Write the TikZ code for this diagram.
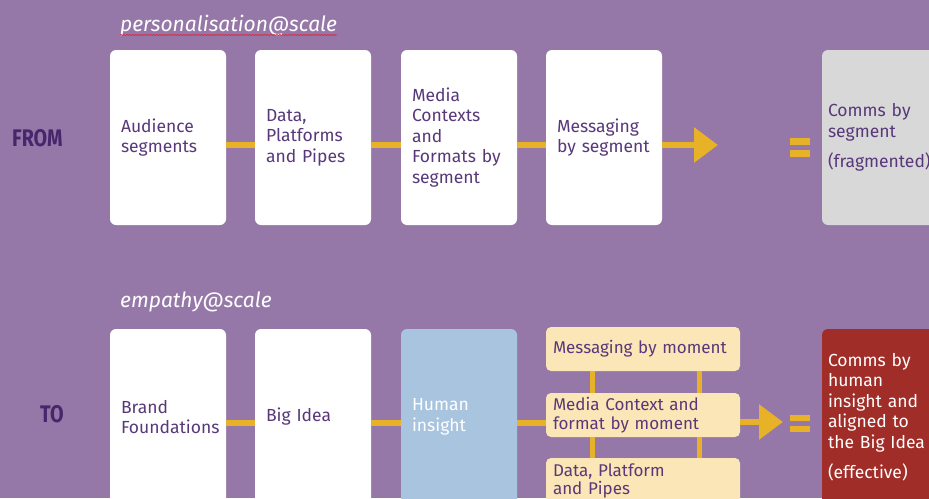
\documentclass[tikz,border=0pt]{standalone}
\usepackage{fontspec}
\setmainfont{Fira Sans}
\newfontfamily\bodyfont{Fira Sans}[UprightFont=* Light]
\newfontfamily\titlefont{Fira Sans}[UprightFont=* Italic]
\newfontfamily\headfont{Fira Sans}[UprightFont=* Bold]
\usetikzlibrary{arrows.meta,decorations.pathmorphing}
\definecolor{bgpurple}{RGB}{149,120,168}
\definecolor{yel}{RGB}{232,178,40}
\definecolor{txtpurple}{RGB}{88,56,122}
\definecolor{headpurple}{RGB}{72,38,108}
\definecolor{lblue}{RGB}{168,196,222}
\definecolor{cream}{RGB}{250,230,182}
\definecolor{redbox}{RGB}{160,45,40}
\definecolor{greybox}{RGB}{216,216,216}
\definecolor{squiggle}{RGB}{215,50,70}
\tikzset{
  box/.style={fill=white, rounded corners=6pt, minimum width=116pt, text width=94pt, inner xsep=11pt,
    align=left, font=\fontsize{17.5}{20.5}\selectfont, text=txtpurple, anchor=center},
  tall/.style={minimum height=175pt},
  creambox/.style={fill=cream, rounded corners=5pt, minimum width=194pt, text width=180pt, inner xsep=7pt,
    align=left, font=\fontsize{17}{18.5}\selectfont, text=txtpurple},
  endbox/.style={rounded corners=6pt, minimum width=130pt, text width=118pt, inner xsep=6pt, align=left,
    font=\fontsize{17.5}{20.5}\selectfont},
  conn/.style={draw=yel, line width=6pt},
  arr/.style={draw=yel, line width=6pt, -{Triangle[length=24pt,width=34pt]}},
  vconn/.style={draw=yel, line width=5pt},
  eq/.style={fill=yel},
  title/.style={font=\titlefont\fontsize{21}{23}\selectfont, text=white, anchor=base west, inner sep=0pt},
  head/.style={font=\headfont\fontsize{24}{24}\selectfont, text=headpurple, anchor=base west, inner sep=0pt},
}
\begin{document}
\begin{tikzpicture}[x=1pt,y=-1pt]
\useasboundingbox (0,0) rectangle (929,498);
\fill[bgpurple] (0,0) rectangle (929,498);
\clip (0,0) rectangle (929,498);

% titles
\node[title] (t1) at (120,31) {personalisation@scale};
\draw[squiggle, line width=0.8pt, decorate, decoration={snake, amplitude=0.6pt, segment length=3pt}]
  (t1.base west) ++(0,4) coordinate (sq1) -- (sq1 -| t1.base east);
\node[title] (t2) at (120,307) {empathy@scale};

\node[head] (from) at (12,146) {\scalebox{0.82}[1]{FROM}};
\node[head] (to) at (40,422) {\scalebox{0.82}[1]{TO}};

% top row
\node[box, tall] (a1) at (168,137.5) {Audience\\segments};
\node[box, tall] (a2) at (313,137.5) {Data,\\Platforms\\and Pipes};
\node[box, tall] (a3) at (459,137.5) {Media\\Contexts\\and\\Formats by\\segment};
\node[box, tall] (a4) at (604,137.5) {Messaging\\by segment};
\node[endbox, fill=greybox, text=txtpurple, minimum height=175pt] (g) at (887,137.5)
  {Comms by\\segment\\[10pt](fragmented)};

\draw[conn] ([yshift=-7.5pt]a1.east) -- ([yshift=-7.5pt]a2.west);
\draw[conn] ([yshift=-7.5pt]a2.east) -- ([yshift=-7.5pt]a3.west);
\draw[conn] ([yshift=-7.5pt]a3.east) -- ([yshift=-7.5pt]a4.west);
\coordinate (atip) at (718,145);
\draw[arr] ([yshift=-7.5pt]a4.east) -- (atip);
\fill[eq] (790,138) rectangle (810,145);
\fill[eq] (790,150) rectangle (810,157);

% bottom row
\node[box, minimum height=176pt] (b1) at (168,417) {Brand\\Foundations};
\node[box, minimum height=176pt] (b2) at (313,417) {Big Idea};
\node[box, minimum height=176pt, fill=lblue, text=white] (b3) at (459,417) {Human\\insight};

\node[creambox, minimum height=44pt] (m1) at (643,349) {Messaging by moment};
\node[creambox, minimum height=44pt] (m2) at (643,415) {Media Context and\\format by moment};
\node[creambox, minimum height=46pt] (m3) at (643,481) {Data, Platform\\and Pipes};

\node[endbox, fill=redbox, text=white, minimum height=176pt] (r) at (887,417)
  {Comms by\\human\\insight and\\aligned to\\the Big Idea\\[10pt](effective)};

\draw[conn] ([yshift=-6pt]b1.east) -- ([yshift=-6pt]b2.west);
\draw[conn] ([yshift=-6pt]b2.east) -- ([yshift=-6pt]b3.west);
\draw[conn] ([yshift=-6pt]b3.east) -- ([yshift=-6pt]b3.east -| m2.west);
\draw[vconn] ([xshift=-51pt]m1.south) -- ([xshift=-51pt]m2.north);
\draw[vconn] ([xshift=56pt]m1.south) -- ([xshift=56pt]m2.north);
\draw[vconn] ([xshift=-51pt]m2.south) -- ([xshift=-51pt]m3.north);
\draw[vconn] ([xshift=56pt]m2.south) -- ([xshift=56pt]m3.north);
\coordinate (btip) at (783,422);
\draw[arr] (m2.east |- btip) -- (btip);
\fill[eq] (790,415) rectangle (810,421);
\fill[eq] (790,426) rectangle (810,432);
\end{tikzpicture}
\end{document}
